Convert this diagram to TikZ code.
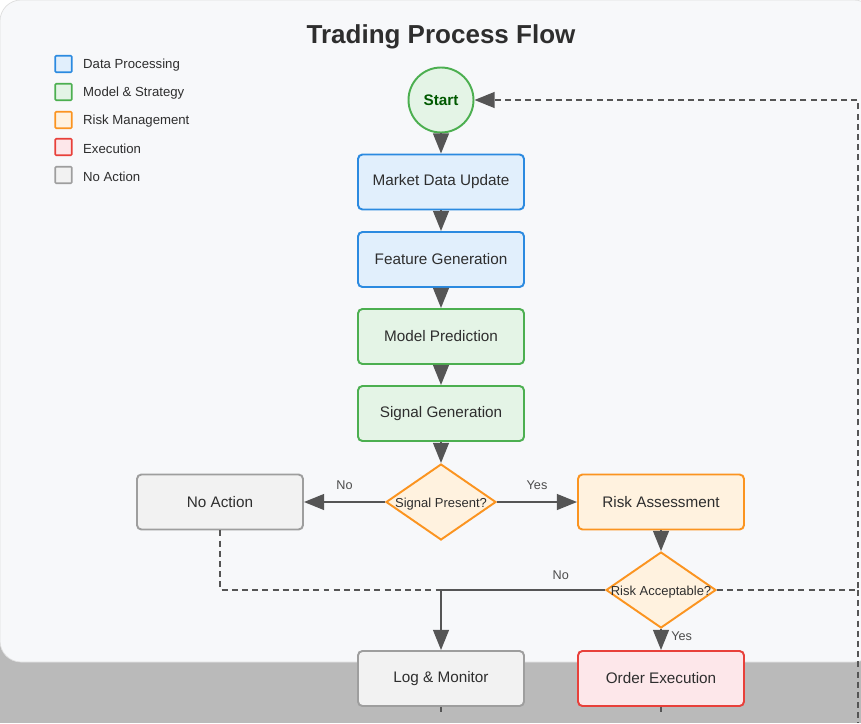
\documentclass[tikz,border=0pt]{standalone}
\usepackage{fontspec}
\setmainfont{Liberation Sans}
\usetikzlibrary{shapes.geometric,arrows.meta}

\definecolor{panelbg}{HTML}{F7F8FA}
\definecolor{outerbg}{HTML}{BABABA}
\definecolor{edgegray}{HTML}{555555}
\definecolor{txtgray}{HTML}{2E2E2E}
\definecolor{blueline}{HTML}{2B8AE0}
\definecolor{bluefill}{HTML}{E1EFFC}
\definecolor{greenline}{HTML}{4CAF50}
\definecolor{greenfill}{HTML}{E4F4E6}
\definecolor{orangeline}{HTML}{FB9420}
\definecolor{orangefill}{HTML}{FFF2DF}
\definecolor{redline}{HTML}{E8403A}
\definecolor{redfill}{HTML}{FDE7EA}
\definecolor{grayline}{HTML}{9E9E9E}
\definecolor{grayfill}{HTML}{F2F2F2}

\begin{document}
\begin{tikzpicture}[x=0.02cm, y=-0.02cm,
		every node/.style={text=txtgray},
		box/.style={draw, rectangle, rounded corners=2.5pt, line width=1.1pt, minimum width=3.32cm, minimum height=1.1cm, font=\fontsize{8.7}{10}\selectfont},
		databox/.style={box, draw=blueline, fill=bluefill},
		modelbox/.style={box, draw=greenline, fill=greenfill},
		riskbox/.style={box, draw=orangeline, fill=orangefill},
		execbox/.style={box, draw=redline, fill=redfill},
		idlebox/.style={box, draw=grayline, fill=grayfill},
		decision/.style={draw=orangeline, fill=orangefill, diamond, line width=1.1pt, inner sep=0pt, minimum width=2.2cm, minimum height=1.52cm, label={[font=\fontsize{7.4}{9}\selectfont, text=txtgray, yshift=-1.2pt]center:#1}},
		legbox/.style={draw, rectangle, rounded corners=0.5pt, line width=0.9pt, minimum size=0.33cm, inner sep=0pt},
		legtext/.style={anchor=west, font=\fontsize{7.5}{9}\selectfont},
		flow/.style={draw=edgegray, line width=1.1pt, -{Triangle[length=11.5pt, width=9pt]}},
		loop/.style={draw=edgegray, line width=1.1pt, dash pattern=on 3.4pt off 2.4pt},
		tag/.style={font=\fontsize{7.2}{9}\selectfont, text=edgegray!90!black}]
	\useasboundingbox (0,0) rectangle (861,723);
	% background
	\fill[outerbg] (0,0) rectangle (861,723);
	\fill[white] (0,0) rectangle (861,300);
	\draw[fill=panelbg, draw=gray!25, rounded corners=12pt] (0,0) rectangle (875,662);
	\node[font=\bfseries\fontsize{14.8}{17}\selectfont] (title) at (441,37) {Trading Process Flow};

	% legend
	\node[legbox, draw=blueline, fill=bluefill] (L1) at (63.5,64) {};
	\node[legbox, draw=greenline, fill=greenfill] (L2) at (63.5,92) {};
	\node[legbox, draw=orangeline, fill=orangefill] (L3) at (63.5,120) {};
	\node[legbox, draw=redline, fill=redfill] (L4) at (63.5,147) {};
	\node[legbox, draw=grayline, fill=grayfill] (L5) at (63.5,175) {};
	\node[legtext] at (77,65.5) {Data Processing};
	\node[legtext] at (77,93.5) {Model \& Strategy};
	\node[legtext] at (77,121.5) {Risk Management};
	\node[legtext] at (77,148.5) {Execution};
	\node[legtext] at (77,176.5) {No Action};

	% nodes
	\node[draw=greenline, fill=greenfill, circle, line width=1.1pt, minimum size=1.3cm, inner sep=0pt, text=green!35!black, font=\bfseries\fontsize{8.7}{10}\selectfont] (start) at (441,100) {Start};
	\node[databox] (market) at (441,182) {Market Data Update};
	\node[databox] (feature) at (441,259.5) {Feature Generation};
	\node[modelbox] (predict) at (441,336.5) {Model Prediction};
	\node[modelbox] (signal) at (441,413.5) {Signal Generation};
	\node[decision=Signal Present?] (present) at (441,502) {};
	\node[idlebox] (noaction) at (220,502) {No Action};
	\node[riskbox] (assess) at (661,502) {Risk Assessment};
	\node[decision=Risk Acceptable?] (accept) at (661,590) {};
	\node[idlebox] (logmon) at (441,678.5) {Log \& Monitor};
	\node[execbox] (order) at (661,678.5) {Order Execution};

	\coordinate (join) at (441,590);
	\coordinate (naturn) at (220,590);
	\coordinate (rcorner) at (858,590);
	\coordinate (tcorner) at (858,100);
	\coordinate (rend) at (858,723);
	\coordinate (logend) at (441,712);
	\coordinate (orderend) at (661,712);

	% connectors
	\draw[flow] (start) -- (market);
	\draw[flow] (market) -- (feature);
	\draw[flow] (feature) -- (predict);
	\draw[flow] (predict) -- (signal);
	\draw[flow] (signal) -- (present);
	\draw[flow] (present) -- node[tag, above=3pt] {No} (noaction);
	\draw[flow] (present) -- node[tag, above=3pt] {Yes} (assess);
	\draw[flow] (assess) -- (accept);
	\draw[flow] (accept) -- node[tag, right=2pt, yshift=2pt] {Yes} (order);
	\draw[draw=edgegray, line width=1.1pt] (accept.west) -- node[tag, above=2pt, pos=0.27] {No} (join);
	\draw[flow] (join) -- (logmon);
	\draw[loop] (noaction) -- (naturn) -- (join);
	\draw[loop, -{Triangle[length=11.5pt, width=9pt]}] (accept.east) -- (rcorner) -- (tcorner) -- (start);
	\draw[loop] (rcorner) -- (rend);
	\draw[draw=edgegray, line width=1.1pt] (logmon) -- (logend);
	\draw[draw=edgegray, line width=1.1pt] (order) -- (orderend);
\end{tikzpicture}
\end{document}
